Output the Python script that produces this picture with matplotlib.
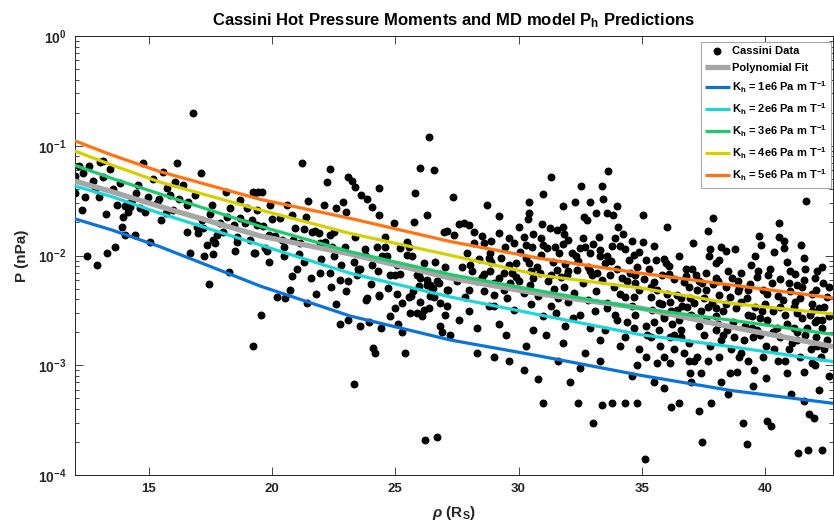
import matplotlib
matplotlib.use('Agg')
import matplotlib.pyplot as plt
from matplotlib.ticker import LogLocator, NullFormatter, FixedLocator

plt.rcParams['font.family'] = ['Liberation Sans', 'DejaVu Sans']
plt.rcParams['font.weight'] = 'bold'
plt.rcParams['mathtext.fontset'] = 'custom'
plt.rcParams['mathtext.rm'] = 'Liberation Sans:bold'
plt.rcParams['mathtext.it'] = 'Liberation Sans:italic'
plt.rcParams['mathtext.bf'] = 'Liberation Sans:bold'
plt.rcParams['mathtext.default'] = 'rm'

# ---------------- Cassini data (rho in R_S, P in nPa) ----------------
rho = [
    16.79, 12.01, 12.19, 12.35, 12.59, 12.0, 12.42, 12.31, 12.75, 12.82, 12.49, 12.89, 13.30, 13.64, 13.26,
    13.03, 13.14, 13.43, 13.16, 13.57, 13.70, 13.84, 14.04, 13.97, 13.91, 14.04, 14.45, 14.11, 14.24, 14.18,
    14.31, 14.58, 14.76, 14.65, 14.85, 14.99, 15.06, 15.19, 15.43, 15.33, 15.60, 15.71, 15.73, 15.87, 16.07,
    16.14, 16.21, 16.41, 16.55, 16.61, 16.55, 16.68, 16.88, 17.11, 16.95, 17.02, 17.15, 17.22, 17.36, 17.46,
    17.56, 17.62, 17.62, 17.25, 17.69, 17.76, 17.90, 18.03, 18.13, 18.17, 18.30, 18.27, 18.44, 18.57, 18.57,
    18.71, 18.71, 18.91, 18.98, 19.28, 19.25, 19.39, 19.18, 19.45, 19.11,
    26.35, 21.21, 22.36, 22.23, 25.99, 26.55, 23.10, 23.24, 23.37, 24.32, 25.78, 23.61, 23.85, 19.28, 19.59,
    21.48, 22.88, 22.09, 22.60, 23.00, 24.05, 19.93, 20.60, 20.81, 21.39, 24.32, 24.93, 25.74, 26.29, 20.01,
    20.33, 19.39, 19.65, 20.94, 21.28, 21.62, 21.75, 21.89, 22.36, 22.50, 23.37, 24.59, 25.47, 26.96, 27.10,
    19.86, 20.13, 20.40, 20.87, 21.14, 21.96, 22.16, 22.43, 22.97, 23.78, 24.26, 24.59, 25.20, 25.54, 25.47,
    25.68, 24.66, 24.46, 23.78, 19.32, 19.72, 20.47, 21.08, 19.86, 22.50, 23.31, 24.05, 25.07, 26.15, 26.62,
    21.01, 21.96, 22.36, 23.58, 24.80, 25.00, 25.88, 26.01, 26.29, 26.42, 26.49, 26.69, 27.10, 22.77, 23.10,
    23.44, 20.74, 20.20, 23.85, 24.32, 25.07, 25.54,
    20.51, 21.41, 19.55, 19.22, 23.82, 24.36, 22.77, 23.10, 23.55, 23.92, 24.42, 24.09, 24.19, 23.31, 24.77,
    25.13, 25.27, 25.40, 25.27, 25.58, 25.65, 25.88, 26.08, 26.15, 26.38, 25.95, 26.29, 26.53, 26.76, 26.55,
    26.83, 27.10, 27.13, 26.83, 26.89, 27.20, 26.22, 26.69,
    27.34, 28.72, 31.32, 32.55, 33.39, 33.63, 33.43, 32.91, 30.41, 30.41, 30.37, 30.95, 31.29, 31.56, 31.80,
    31.86, 32.64, 32.78, 33.12, 33.59, 33.84, 34.00, 34.02, 33.25, 34.24, 27.37, 27.57, 27.77, 30.57, 30.21,
    28.18, 28.58, 29.46, 29.80, 30.07, 30.55, 31.16, 31.49, 31.63, 32.17, 32.31, 32.51, 32.68, 32.91, 33.29,
    33.59, 33.79, 34.13, 34.67, 34.47, 33.73, 28.86, 27.03, 27.71, 28.04, 28.11, 28.86, 29.39, 29.74, 30.41,
    30.75, 30.88, 31.56, 31.97, 32.37, 32.98, 33.19, 27.50, 28.31, 28.52, 29.19, 29.67, 30.00, 30.48, 31.42,
    31.83, 32.23, 33.12, 33.86, 34.13, 34.33, 28.99, 29.53, 27.84,
    41.64, 35.05, 36.00, 37.89, 37.67, 40.55, 39.74, 40.55, 40.76, 40.35, 39.84, 41.46, 40.76, 35.05, 35.48,
    34.87, 35.15, 35.59, 35.89, 35.96, 36.09, 37.08, 37.78, 38.19, 38.43, 38.76, 37.71, 38.12, 39.43, 41.57,
    41.60, 41.57, 41.27, 42.36, 37.04, 37.62, 37.99, 38.66, 38.93, 39.68, 40.29, 40.96, 40.09, 40.73, 41.91,
    42.18, 42.05, 42.52, 34.74, 34.74, 34.87, 35.35, 35.35, 35.69, 34.67, 34.74, 35.15, 34.67, 35.89, 36.23,
    36.43, 36.63, 36.84, 36.97, 37.24, 37.45, 36.90, 36.43, 36.16, 37.51, 37.85, 37.99, 38.12, 38.59, 39.27,
    39.48, 39.88, 40.09, 40.49, 40.90, 41.16, 41.30, 41.71, 42.05, 42.32, 42.39, 42.25, 41.91, 41.57, 40.90,
    40.35, 40.02, 40.96, 39.48, 39.14, 38.73, 38.46, 38.19, 37.78, 38.12, 38.59, 38.87, 39.54, 38.93, 36.97,
    37.38, 37.10, 37.24, 36.70, 36.29, 36.16, 36.57, 36.90, 35.75, 35.35, 34.87, 35.15, 35.62, 36.16, 34.81,
    41.30, 41.91, 42.11, 39.68, 41.84, 41.16,
    35.14, 37.42, 39.28, 41.33, 41.74, 42.30, 42.18, 41.03, 41.57, 41.77, 41.97, 40.09, 40.22, 40.02,
    35.50, 35.90, 36.50, 37.00, 37.30, 37.80, 38.20, 38.50, 39.10, 39.50, 36.20, 34.30, 34.80, 33.40,
    27.60, 28.00, 28.30, 28.80, 29.20, 29.60, 30.20, 30.60, 31.00, 31.30, 31.80, 32.10, 32.50, 32.90, 33.30,
    33.60, 34.00, 34.30, 31.00, 32.40, 33.00,
    27.9, 28.4, 28.9, 29.3, 29.9, 30.3, 30.9, 31.4, 31.9, 32.4, 32.8, 33.5, 34.0, 34.5, 28.6,
    29.0, 29.9, 30.6, 31.2, 31.7, 32.6, 33.4, 34.4, 34.8, 28.0, 28.6, 29.4, 30.2, 30.8, 31.6,
    32.0, 32.8, 33.6, 34.6, 29.0, 29.8, 30.5, 31.5, 32.2, 33.1, 33.9, 34.4, 28.3, 29.5, 30.3,
    31.1, 31.9, 32.7, 33.5, 34.1, 29.0, 30.8, 31.6, 32.5, 33.3, 34.6, 33.8, 28.5, 29.2, 30.0,
    30.9, 32.0, 33.0, 33.9, 34.6, 29.2, 28.0, 31.8, 31.0, 32.3,
    35.3, 35.8, 36.3, 36.8, 37.3, 37.9, 38.4, 38.9, 39.4, 39.9, 40.5, 41.0, 41.4, 41.9, 42.4,
    35.6, 36.0, 36.6, 37.1, 37.7, 38.3, 38.8, 39.3, 39.8, 40.3, 40.8, 41.5, 42.0, 42.6, 35.4,
    35.9, 36.5, 37.0, 37.6, 38.1, 38.7, 39.2, 39.8, 40.6, 41.1, 41.6, 42.5, 35.2, 35.7, 36.3,
    36.9, 37.5, 38.0, 38.6, 39.0, 39.9, 40.5, 41.4, 42.0, 35.9, 37.7, 39.3, 40.8, 42.6, 36.8,
    38.0, 39.0, 40.2, 41.2, 42.0, 36.5, 39.6, 40.9, 42.3,
    19.8, 20.5, 21.3, 22.0, 22.8, 23.5, 24.3, 25.2, 26.0, 26.8, 20.8, 21.6, 22.4, 23.0, 24.0,
    24.7, 25.7, 26.4, 21.8, 22.6, 25.0, 26.0, 27.0,
    13.0, 14.5, 15.5, 16.0, 17.5, 18.5,
    35.1, 35.5, 36.1, 36.7, 37.2, 37.6, 38.1, 38.5, 38.9, 39.3, 39.7, 40.1, 40.6, 41.0, 41.5,
    42.1, 42.6, 35.8, 36.2, 36.9, 37.4, 38.0, 38.4, 39.0, 39.6, 40.0, 40.6, 41.2, 41.8, 42.3,
    35.5, 36.6, 37.3, 38.3, 39.5, 40.3, 41.3, 42.1,
    28.2, 28.9, 29.6, 30.3, 31.0, 31.8, 32.6, 33.3, 34.3, 28.8, 29.6, 30.5, 31.3, 32.0, 32.9,
    33.7, 34.2,
]
P = [
    0.20, 0.053, 0.066, 0.057, 0.065, 0.037, 0.034, 0.026, 0.048, 0.040, 0.0098, 0.0082, 0.0105, 0.012, 0.0237,
    0.0716, 0.073, 0.062, 0.052, 0.040, 0.029, 0.0455, 0.028, 0.0226, 0.0183, 0.0154, 0.0154, 0.0294, 0.0279, 0.0251,
    0.032, 0.044, 0.069, 0.0269, 0.025, 0.034, 0.0134, 0.050, 0.033, 0.030, 0.058, 0.0242, 0.041, 0.0356, 0.047,
    0.069, 0.033, 0.044, 0.029, 0.031, 0.0165, 0.0105, 0.0356, 0.056, 0.0183, 0.0159, 0.021, 0.0177, 0.0125, 0.0055,
    0.029, 0.0138, 0.0103, 0.0099, 0.0129, 0.0154, 0.0196, 0.0165, 0.038, 0.0226, 0.0269, 0.0071, 0.019, 0.0148, 0.0134,
    0.032, 0.0218, 0.0196, 0.0269, 0.0105, 0.038, 0.026, 0.021, 0.038, 0.0138,
    0.119, 0.069, 0.061, 0.047, 0.063, 0.060, 0.052, 0.048, 0.042, 0.041, 0.037, 0.0356, 0.033, 0.037, 0.038,
    0.0315, 0.0307, 0.029, 0.027, 0.0247, 0.0275, 0.029, 0.029, 0.0234, 0.0223, 0.0232, 0.0199, 0.0202, 0.0234, 0.0214,
    0.0218, 0.019, 0.0186, 0.0177, 0.0173, 0.0165, 0.0168, 0.0159, 0.0154, 0.0165, 0.0148, 0.0148, 0.0134, 0.0165, 0.0168,
    0.0154, 0.0151, 0.0138, 0.0138, 0.0129, 0.0129, 0.0134, 0.012, 0.012, 0.0115, 0.012, 0.012, 0.0116, 0.012, 0.0101,
    0.0098, 0.0098, 0.0098, 0.0101, 0.0105, 0.0116, 0.012, 0.0103, 0.0088, 0.0098, 0.0088, 0.0082, 0.0082, 0.0085, 0.0088,
    0.0076, 0.007, 0.0069, 0.0076, 0.0066, 0.0066, 0.0066, 0.0062, 0.006, 0.0054, 0.005, 0.0058, 0.0049, 0.006, 0.0058,
    0.0066, 0.0049, 0.0042, 0.0041, 0.0044, 0.0045, 0.0042,
    0.0041, 0.0037, 0.0029, 0.0015, 0.0039, 0.0043, 0.0024, 0.0026, 0.0023, 0.0025, 0.0022, 0.00145, 0.0013, 0.00067, 0.0028,
    0.0024, 0.002, 0.0013, 0.0037, 0.003, 0.0043, 0.003, 0.0028, 0.0032, 0.0033, 0.0053, 0.0054, 0.0051, 0.0056, 0.0042,
    0.0037, 0.0035, 0.0048, 0.0023, 0.002, 0.0019, 0.00021, 0.00022,
    0.034, 0.029, 0.052, 0.043, 0.043, 0.059, 0.0325, 0.031, 0.031, 0.0242, 0.0214, 0.0194, 0.0177, 0.0171, 0.018,
    0.0156, 0.0226, 0.021, 0.0242, 0.0242, 0.0234, 0.028, 0.0183, 0.0147, 0.0156, 0.0154, 0.0194, 0.0199, 0.0156, 0.0148,
    0.0131, 0.0129, 0.012, 0.0129, 0.0108, 0.012, 0.0116, 0.012, 0.0106, 0.0105, 0.0098, 0.0116, 0.012, 0.0105, 0.0098,
    0.0099, 0.0122, 0.0122, 0.0101, 0.0091, 0.009, 0.0105, 0.0079, 0.0079, 0.0082, 0.0073, 0.0073, 0.0069, 0.007, 0.0085,
    0.0079, 0.0069, 0.0074, 0.0066, 0.0074, 0.0066, 0.0069, 0.0058, 0.0058, 0.0064, 0.0062, 0.0056, 0.0058, 0.0054, 0.005,
    0.0052, 0.0046, 0.0047, 0.0052, 0.0045, 0.0042, 0.0044, 0.0041, 0.0042,
    0.0315, 0.0234, 0.0183, 0.0221, 0.0168, 0.0199, 0.0151, 0.0147, 0.0136, 0.0108, 0.0125, 0.0125, 0.0116, 0.0134, 0.0122,
    0.0108, 0.0091, 0.0091, 0.0092, 0.0085, 0.008, 0.0129, 0.0115, 0.012, 0.0111, 0.0114, 0.0099, 0.0091, 0.0082, 0.0094,
    0.0076, 0.006, 0.0054, 0.0056, 0.0076, 0.0069, 0.0063, 0.0062, 0.0051, 0.0064, 0.0056, 0.0056, 0.0045, 0.0039, 0.0036,
    0.0033, 0.0049, 0.0042, 0.0066, 0.0056, 0.0049, 0.0052, 0.0042, 0.0037, 0.0042, 0.0029, 0.0023, 0.0022, 0.0027, 0.0024,
    0.0032, 0.0035, 0.0034, 0.0041, 0.0049, 0.0056, 0.0052, 0.0044, 0.0038, 0.0041, 0.0037, 0.0033, 0.0044, 0.0042, 0.0041,
    0.0028, 0.0031, 0.0026, 0.0022, 0.0024, 0.0022, 0.0017, 0.0022, 0.0018, 0.0022, 0.0014, 0.0012, 0.00104, 0.00086, 0.00085,
    0.0014, 0.0015, 0.0014, 0.0022, 0.0017, 0.0018, 0.0021, 0.0017, 0.0015, 0.0012, 0.00085, 0.00086, 0.0009, 0.0012, 0.00085,
    0.00085, 0.0011, 0.0012, 0.0013, 0.0014, 0.0018, 0.0018, 0.0011, 0.0015, 0.0018, 0.0014, 0.0012, 0.00104, 0.00104, 0.001,
    0.003, 0.0031, 0.0026, 0.0021, 0.0014, 0.0034,
    0.00014, 0.0002, 0.00019, 0.00016, 0.00017, 0.00017, 0.0006, 0.00055, 0.00047, 0.00036, 0.00033, 0.00031, 0.00028, 0.00076,
    0.0007, 0.00062, 0.00045, 0.0007, 0.00038, 0.00045, 0.0007, 0.00055, 0.0003, 0.00065, 0.00042, 0.00045, 0.00045, 0.00043,
    0.0026, 0.0031, 0.0013, 0.0035, 0.0024, 0.0011, 0.0009, 0.0021, 0.0028, 0.0035, 0.0016, 0.0007, 0.0029, 0.0022, 0.0017,
    0.0033, 0.0026, 0.0018, 0.00045, 0.00045, 0.0003,
    0.0105, 0.0092, 0.0088, 0.0095, 0.0086, 0.0095, 0.0102, 0.0088, 0.0083, 0.0089, 0.0078, 0.0085, 0.0076, 0.0069, 0.0068,
    0.0056, 0.0064, 0.0062, 0.0059, 0.0064, 0.0056, 0.006, 0.0058, 0.0078, 0.0049, 0.0047, 0.0048, 0.0046, 0.0043, 0.0041,
    0.0038, 0.0039, 0.0037, 0.0035, 0.0035, 0.0032, 0.0036, 0.003, 0.0027, 0.0031, 0.0029, 0.0025, 0.0022, 0.0019, 0.0015,
    0.0019, 0.0023, 0.0013, 0.0021, 0.0015, 0.0012, 0.00075, 0.0011, 0.00095, 0.0011, 0.0008, 0.00045, 0.015, 0.016, 0.018,
    0.0145, 0.0138, 0.0128, 0.0145, 0.0135, 0.023, 0.019, 0.028, 0.036, 0.031,
    0.0075, 0.0066, 0.0061, 0.0065, 0.0058, 0.0055, 0.0052, 0.0047, 0.0055, 0.0048, 0.0043, 0.0047, 0.0041, 0.0045, 0.0034,
    0.0048, 0.0045, 0.0041, 0.0037, 0.0034, 0.0031, 0.0033, 0.0029, 0.0027, 0.0031, 0.0029, 0.0027, 0.0025, 0.0028, 0.0032,
    0.0028, 0.0026, 0.0029, 0.0026, 0.0024, 0.0025, 0.0023, 0.0019, 0.0018, 0.0016, 0.0019, 0.0017, 0.0019, 0.0021, 0.0019,
    0.0016, 0.0019, 0.0021, 0.0014, 0.0013, 0.0012, 0.0011, 0.0012, 0.001, 0.0012, 0.0011, 0.0011, 0.0011, 0.0008, 0.0075,
    0.0085, 0.0069, 0.0075, 0.0068, 0.0062, 0.0098, 0.0099, 0.0088, 0.0078,
    0.011, 0.0098, 0.0088, 0.0092, 0.0082, 0.0075, 0.0072, 0.0068, 0.0073, 0.0068, 0.0065, 0.0062, 0.0052, 0.0047, 0.0055,
    0.0051, 0.0047, 0.0043, 0.0045, 0.0036, 0.0033, 0.0038, 0.0029,
    0.034, 0.037, 0.021, 0.026, 0.024, 0.011,
    0.0061, 0.0057, 0.0068, 0.0057, 0.0066, 0.0049, 0.0058, 0.0072, 0.0058, 0.0049, 0.0072, 0.0066, 0.0061, 0.0072, 0.0052,
    0.0072, 0.0052, 0.0036, 0.0031, 0.0028, 0.0031, 0.0028, 0.0036, 0.0038, 0.0034, 0.0036, 0.0034, 0.0038, 0.0029, 0.0026,
    0.0025, 0.0021, 0.0023, 0.0019, 0.0018, 0.0020, 0.0020, 0.0015,
    0.0165, 0.0135, 0.0145, 0.0125, 0.0125, 0.0128, 0.0145, 0.0112, 0.0115, 0.0095, 0.0082, 0.0073, 0.0066, 0.0072, 0.0072,
    0.0066, 0.0062,
]

# ---------------- model curves ----------------
curve_rho = [12.0, 13.5, 15.47, 19.52, 23.17, 27.23, 30.88, 34.94, 38.59, 42.75]
fit_P = [0.0477, 0.0382, 0.0279, 0.01507, 0.01032, 0.00624, 0.00446, 0.00332, 0.00224, 0.00148]
K1_P = [0.0216, 0.0171, 0.0120, 0.00527, 0.00281, 0.0017, 0.00121, 0.00081, 0.00059, 0.00045]
K2_P = [0.043, 0.0344, 0.0242, 0.01247, 0.00689, 0.00419, 0.00287, 0.0019, 0.00148, 0.00108]
K3_P = [0.0664, 0.0505, 0.0363, 0.01845, 0.01083, 0.00671, 0.00475, 0.00329, 0.00258, 0.00191]
K4_P = [0.0896, 0.0668, 0.0465, 0.026, 0.0159, 0.01005, 0.0066, 0.00506, 0.00367, 0.00293]
K5_P = [0.111, 0.0824, 0.058, 0.0325, 0.0218, 0.0134, 0.0094, 0.0069, 0.0054, 0.0041]
K_labels = ['1e6', '2e6', '3e6', '4e6', '5e6']
K_colors = ['#0a74da', '#1fd6d6', '#1ecb6c', '#d6d000', '#ff7410']

x_ticks = [15, 20, 25, 30, 35, 40]
y_ticks = [1e-4, 1e-3, 1e-2, 1e-1, 1e0]
y_ticklabels = [r'10$^{-4}$', r'10$^{-3}$', r'10$^{-2}$', r'10$^{-1}$', r'10$^{0}$']

fig = plt.figure(figsize=(8.34, 5.27), dpi=100)
ax = fig.add_axes([74.7 / 834, 1 - 475 / 527, (833 - 74.7) / 834, (475 - 36) / 527])

ax.plot(rho, P, 'o', color='k', ms=5.7, mec='k', mew=0, label='Cassini Data', zorder=2)
ax.plot(curve_rho, fit_P, color='#a6a6a6', lw=3.8, label='Polynomial Fit', zorder=3,
        solid_capstyle='butt')
for vals, c, k in zip([K1_P, K2_P, K3_P, K4_P, K5_P], K_colors, K_labels):
    ax.plot(curve_rho, vals, color=c, lw=2.3, zorder=4, solid_capstyle='butt',
            label=r'K$_{\mathrm{h}}$ = ' + k + r' Pa m T$^{-1}$')

ax.set_yscale('log')
ax.set_xlim(12, 42.75)
ax.set_ylim(1e-4, 1)
ax.xaxis.set_major_locator(FixedLocator(x_ticks))
ax.set_xticklabels([str(t) for t in x_ticks])
ax.set_yticks(y_ticks)
ax.set_yticklabels(y_ticklabels)
ax.yaxis.set_minor_locator(LogLocator(base=10, subs=range(2, 10)))
ax.yaxis.set_minor_formatter(NullFormatter())

ax.tick_params(which='both', direction='in', top=True, right=True, color='0.15', width=0.6,
               labelsize=9.5, labelcolor='0.15')
ax.tick_params(axis='y', which='major', labelsize=10)
ax.tick_params(which='major', length=5.5, pad=6)
ax.tick_params(which='minor', length=2.8)
for s in ax.spines.values():
    s.set_color('0.15')
    s.set_linewidth(0.7)

ax.set_xlabel(r'$\mathit{\rho}$ (R$_{\mathrm{S}}$)', fontsize=11, fontweight='bold', color='0.15', labelpad=6)
ax.set_ylabel('P (nPa)', fontsize=11, fontweight='bold', color='0.15', labelpad=6)
ax.set_title(r'Cassini Hot Pressure Moments and MD model P$_{\mathrm{h}}$ Predictions',
             fontsize=12, fontweight='bold', pad=8)

leg = ax.legend(loc='upper right', bbox_to_anchor=(0.9974, 0.9863), borderaxespad=0,
                fontsize=8, numpoints=1, handlelength=2.2, handletextpad=0.2,
                labelspacing=0.58, borderpad=0.4, fancybox=False, framealpha=1,
                edgecolor='0.65')
leg.get_frame().set_linewidth(0.8)
for t in leg.get_texts():
    t.set_fontweight('bold')

fig.savefig('out.png', dpi=100)
